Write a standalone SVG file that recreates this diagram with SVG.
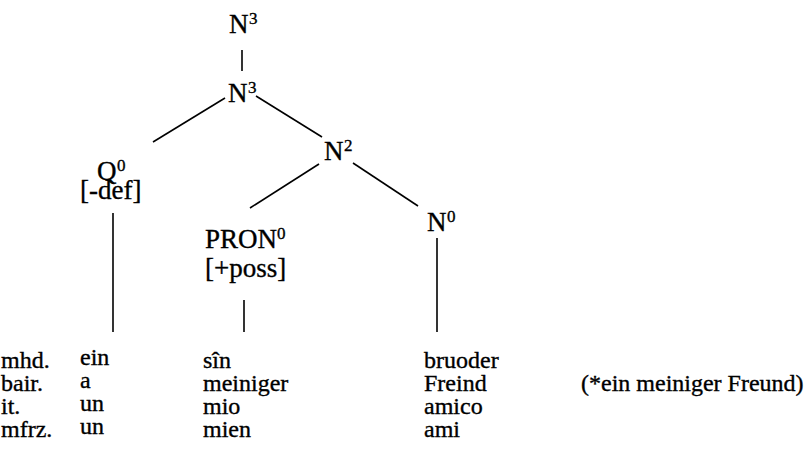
<svg xmlns="http://www.w3.org/2000/svg" width="805" height="466" viewBox="0 0 805 466">
<style>
text{font-family:"Liberation Serif","Times New Roman",serif;fill:#000;stroke:#000;stroke-width:0.35}
.n{font-size:27px}
.s{font-size:17px}
.r{font-size:24px}
line{stroke:#000;stroke-width:1.6;stroke-linecap:butt}
</style>
<rect width="805" height="466" fill="#fff"/>
<g id="connectors">
<line x1="242" y1="50" x2="242" y2="71"/>
<line x1="225" y1="98" x2="153" y2="142"/>
<line x1="256" y1="96" x2="322" y2="137"/>
<line x1="319" y1="164" x2="250" y2="208"/>
<line x1="353" y1="163" x2="418" y2="206"/>
<line x1="113" y1="213" x2="113" y2="332"/>
<line x1="244" y1="300" x2="244" y2="332"/>
<line x1="437" y1="238" x2="437" y2="332"/>
</g>
<g id="n3top"><text class="n" x="229" y="33">N</text><text class="s" x="249" y="24">3</text></g>
<g id="n3"><text class="n" x="228" y="102">N</text><text class="s" x="248" y="93">3</text></g>
<g id="n2"><text class="n" x="324" y="160">N</text><text class="s" x="344" y="151">2</text></g>
<g id="n0"><text class="n" x="427" y="231">N</text><text class="s" x="447" y="222">0</text></g>
<g id="q0"><text class="n" x="97" y="180">Q</text><text class="s" x="117" y="171">0</text><text class="n" x="80" y="199">[-def]</text></g>
<g id="pron0"><text class="n" x="205" y="248">PRON</text><text class="s" x="277" y="239">0</text><text class="n" x="205" y="277">[+poss]</text></g>
<g id="table">
<text class="r" x="1" y="368">mhd.</text>
<text class="r" x="1" y="391">bair.</text>
<text class="r" x="1" y="414">it.</text>
<text class="r" x="1" y="437">mfrz.</text>
<text class="r" x="80" y="365">ein</text>
<text class="r" x="80" y="388">a</text>
<text class="r" x="80" y="411">un</text>
<text class="r" x="80" y="434">un</text>
<text class="r" x="203" y="368">sîn</text>
<text class="r" x="203" y="391">meiniger</text>
<text class="r" x="203" y="414">mio</text>
<text class="r" x="203" y="437">mien</text>
<text class="r" x="424" y="368">bruoder</text>
<text class="r" x="424" y="391">Freind</text>
<text class="r" x="424" y="414">amico</text>
<text class="r" x="424" y="437">ami</text>
<text class="r" x="581" y="391">(*ein meiniger Freund)</text>
</g>
</svg>
